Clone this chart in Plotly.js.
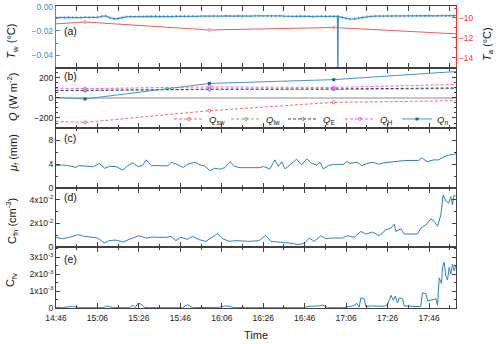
<!DOCTYPE html>
<html><head><meta charset="utf-8">
<script src="https://cdn.plot.ly/plotly-3.0.1.min.js"></script>
<style>html,body{margin:0;padding:0;background:#fff}#chart{width:500px;height:344px}</style>
</head><body><div id="chart"></div>
<script>
// ---- data (time in minutes after 14:46) ----
const twMin = [0,2,4,6,8,10,12,14,16,18,20,22,24,26,28,30,32,34,36,38,40,42,44,46,48,50,52,54,56,58,60,62,64,66,68,70,72,74,76,78,80,82,84,86,88,90,92,94,96,98,100,102,104,106,108,110,112,114,116,118,120,122,124,126,128,130,132,134,135.8,136,136.2,138,140,142,144,146,148,150,152,154,156,158,160,162,164,166,168,170,172,174,176,178,180,182,184,186,188,190,192,194];
const twVal = [-0.0090,-0.0088,-0.0091,-0.0089,-0.0090,-0.0087,-0.0090,-0.0088,-0.0089,-0.0087,-0.0088,-0.0080,-0.0076,-0.0092,-0.0100,-0.0098,-0.0090,-0.0084,-0.0083,-0.0085,-0.0082,-0.0083,-0.0081,-0.0082,-0.0080,-0.0082,-0.0081,-0.0080,-0.0082,-0.0080,-0.0081,-0.0079,-0.0080,-0.0078,-0.0080,-0.0079,-0.0081,-0.0079,-0.0078,-0.0080,-0.0078,-0.0077,-0.0079,-0.0078,-0.0076,-0.0078,-0.0077,-0.0079,-0.0077,-0.0076,-0.0078,-0.0077,-0.0079,-0.0078,-0.0077,-0.0079,-0.0081,-0.0082,-0.0080,-0.0079,-0.0081,-0.0080,-0.0082,-0.0080,-0.0079,-0.0081,-0.0080,-0.0081,-0.0080,-0.0560,-0.0082,-0.0088,-0.0098,-0.0103,-0.0101,-0.0095,-0.0088,-0.0082,-0.0080,-0.0079,-0.0078,-0.0079,-0.0077,-0.0078,-0.0076,-0.0077,-0.0078,-0.0076,-0.0077,-0.0075,-0.0076,-0.0077,-0.0075,-0.0076,-0.0075,-0.0074,-0.0076,-0.0075,-0.0074,-0.0075];

const hourMin = [-46,14,74,134,194];   // 14:00, 15:00, 16:00, 17:00, 18:00
const taVal = [-11.2,-10.4,-11.2,-10.95,-11.6];

const qSw = [-201,-244,-127,-44,-27];
const qLw = [72,73,84,84,93];
const qE  = [75,76,88,90,100];
const qH  = [115,93,110,105,135];
const qN  = [58,-10,145,183,265];

const muMin = [0,3.2,6.5,9.7,11.3,14.5,17.7,21,23.4,25.8,29,32.3,34.7,37.1,39.5,41.6,43.5,46,48.4,54,55.6,58,61.3,63.7,67,69.4,71.8,74.2,76.6,79,81.5,83.9,86.3,88.7,98.4,100,103.2,105.6,107.3,108.9,110.5,112.9,116.1,118.5,121,123.4,125.8,127.4,129,131.5,133.9,138.7,140.3,141.9,145.2,147.6,150,153.2,155.6,158,161.3,164.5,168.5,175,176.6,179,182.3,184.7,187.1,189.5,192,193.5];
const muVal = [3.7,3.85,3.7,3.45,3.75,3.7,3.55,4.1,3.3,3.63,3.57,3.0,3.75,4.2,3.57,3.75,4.7,3.75,3.7,3.7,4.3,4.0,3.45,4.0,4.3,3.85,3.7,2.9,3.3,3.15,3.4,4.4,3.6,3.4,3.4,3.6,3.2,4.7,3.6,4.4,3.2,3.85,4.8,3.85,4.85,4.1,3.85,4.3,3.2,3.75,3.95,3.95,4.4,4.1,4.3,3.75,4.1,4.3,3.95,4.2,4.3,4.4,4.6,4.6,5.05,4.4,4.7,4.7,5.2,5.5,5.6,5.8];

const cfnMin = [0,3.2,6.4,10.5,12.9,16.1,20.1,23.3,25.7,28.9,32.2,37.0,40.2,43.4,46.6,49.8,53.1,55.5,57.9,60.3,63.5,65.9,69.1,72.3,75.6,78.0,80.4,83.6,86.8,90.0,93.2,98.1,101.0,103.7,109.3,114.1,116.6,119.8,122.2,124.6,127.8,130.2,132.6,138.3,140.7,143.9,147.1,149.5,152.7,155.9,159.2,161.6,163.2,164.0,166.4,168.0,174.4,176.0,178.5,180.9,182.5,184.1,185.7,186.8,188.1,189.4,190.5,191.3,192.1,192.9];
const cfnVal = [0.0082,0.0070,0.0082,0.0104,0.0093,0.0085,0.0076,0.0034,0.0054,0.0059,0.0042,0.0076,0.0096,0.0076,0.0085,0.0082,0.0082,0.0090,0.0054,0.0082,0.0065,0.0090,0.0062,0.0048,0.0082,0.0113,0.0070,0.0048,0.0054,0.0048,0.0048,0.0054,0.0099,0.0048,0.0039,0.0031,0.0020,0.0031,0.0076,0.0048,0.0096,0.0070,0.0076,0.0076,0.0096,0.0082,0.0132,0.0110,0.0127,0.0096,0.0146,0.0161,0.0194,0.0132,0.0155,0.0110,0.0110,0.0161,0.0189,0.0239,0.0217,0.0175,0.0273,0.0442,0.0392,0.0372,0.0428,0.0358,0.0442,0.0428];

const cfvMin = [0,3.2,8.0,11.3,22.5,24.9,27.3,35.4,37.0,38.3,39.4,41.0,42.6,45.0,61.1,63.5,65.9,78.8,81.2,83.6,86.0,119.0,122.2,127.0,128.6,131.0,138.3,140.7,143.1,145.2,146.3,147.1,148.7,149.5,151.9,158.4,160.0,161.6,162.7,163.7,164.8,165.6,167.2,168.0,176.0,176.8,178.5,179.3,181.7,183.3,184.1,184.9,186.0,186.5,187.3,188.1,188.9,189.7,190.5,191.3,192.1,192.9];
const cfvVal = [0.00004,0.00002,0.0001,0.00002,0.00002,0.00012,0.00002,0.00002,0.00016,0.00002,0.00027,0.00024,0.00004,0.00002,0.00002,0.0002,0.00002,0.00004,0.00012,0.0001,0.00002,0.00002,0.0001,0.00012,0.00018,0.00002,0.00002,0.00006,0.00012,0.00027,0.00006,0.0006,0.00055,0.00008,0.00012,0.0001,0.0002,0.00075,0.00047,0.0007,0.0003,0.0006,0.00055,0.00012,0.00008,0.0009,0.00084,0.0004,0.0005,0.00055,0.00016,0.00178,0.00145,0.0024,0.0027,0.00188,0.00165,0.0024,0.002,0.0026,0.0022,0.0025];

const qNames = ['<i>Q</i><sub>sw</sub>','<i>Q</i><sub>lw</sub>','<i>Q</i><sub>E</sub>','<i>Q</i><sub>H</sub>','<i>Q</i><sub>n</sub>'];

// ---- helpers ----
const base = Date.UTC(2024,0,1,14,46);
const T = arr => arr.map(m => base + m*60000);
const xRange = [base, base + 193*60000];
const FONT = 'Liberation Sans, Arial, sans-serif';
const BLUE = '#2f7fc1', RED = '#f25a5a', AX = '#404040', TWBLUE = '#3d8fd6';
const DASH = '3px,2px';

const traces = [
  {x:T(twMin), y:twVal, xaxis:'x', yaxis:'y', mode:'lines+markers', line:{color:TWBLUE,width:1.3},
   marker:{symbol:'line-ns-open',size:2,color:TWBLUE,line:{width:0.8,color:TWBLUE}}, showlegend:false},
  {x:T(hourMin), y:taVal, xaxis:'x', yaxis:'y6', mode:'lines+markers', line:{color:RED,width:1},
   marker:{symbol:'circle-open',size:3,color:'#f5a0a0'}, showlegend:false},
  {x:T(hourMin), y:qSw, xaxis:'x2', yaxis:'y2', name:qNames[0], mode:'lines+markers',
   line:{color:'#f26b6b',width:1,dash:DASH}, marker:{symbol:'circle-open',size:3,color:'#f26b6b'}},
  {x:T(hourMin), y:qLw, xaxis:'x2', yaxis:'y2', name:qNames[1], mode:'lines+markers',
   line:{color:'#66c266',width:1,dash:DASH}, marker:{symbol:'circle-open',size:3,color:'#66c266'}},
  {x:T(hourMin), y:qE, xaxis:'x2', yaxis:'y2', name:qNames[2], mode:'lines+markers',
   line:{color:'#404040',width:1,dash:DASH}, marker:{symbol:'circle-open',size:3,color:'#909090'}},
  {x:T(hourMin), y:qH, xaxis:'x2', yaxis:'y2', name:qNames[3], mode:'lines+markers',
   line:{color:'#ff4dff',width:1,dash:DASH}, marker:{symbol:'circle-open',size:3,color:'#ff4dff'}},
  {x:T(hourMin), y:qN, xaxis:'x2', yaxis:'y2', name:qNames[4], mode:'lines+markers',
   line:{color:'#4a90d0',width:1}, marker:{symbol:'square',size:3,color:'#1f5fa0'}},
  {x:T(muMin), y:muVal, xaxis:'x3', yaxis:'y3', mode:'lines', line:{color:BLUE,width:1}, showlegend:false},
  {x:T(cfnMin), y:cfnVal, xaxis:'x4', yaxis:'y4', mode:'lines', line:{color:BLUE,width:1}, showlegend:false},
  {x:T(cfvMin), y:cfvVal, xaxis:'x5', yaxis:'y5', mode:'lines', line:{color:BLUE,width:1}, showlegend:false}
];

const tickFont = {family:FONT,size:8.5,color:'#222'};
function xAx(anchor, labels){
  return {type:'date', range:xRange, anchor:anchor, domain:[0,1], showline:true, linecolor:AX, linewidth:1,
    mirror:'allticks', ticks:'inside', ticklen:5, tickcolor:AX, tickwidth:1, tick0:base, dtick:1200000,
    tickformat:'%H:%M', showticklabels:labels, tickfont:tickFont, showgrid:false, zeroline:false,
    minor:{ticks:'inside', ticklen:3, dtick:600000, tick0:base, tickcolor:AX, showgrid:false}};
}
function yAx(domain, range, extra){
  return Object.assign({domain:domain, range:range, showline:true, linecolor:AX, linewidth:1,
    mirror:'allticks', ticks:'inside', ticklen:4, tickcolor:AX, tickfont:tickFont, showgrid:false, zeroline:false}, extra);
}
const dA=[0.795,1], dB=[0.596,0.795], dC=[0.397,0.596], dD=[0.202,0.397], dE=[0,0.202];

const layout = {
  width:500, height:344, margin:{l:56,r:44,t:6,b:36},
  paper_bgcolor:'#fff', plot_bgcolor:'#fff', font:{family:FONT,size:10,color:'#222'},
  xaxis: xAx('y',false), xaxis2: xAx('y2',false), xaxis3: xAx('y3',false), xaxis4: xAx('y4',false),
  xaxis5: Object.assign(xAx('y5',true), {ticklabelstandoff:2,
    title:{text:'Time', font:{family:FONT,size:11,color:'#222'}, standoff:9}}),
  yaxis: {domain:dA, range:[-0.0505,0.0005], anchor:'x', showline:true, linecolor:TWBLUE, linewidth:1.2,
    ticks:'inside', ticklen:4, tickcolor:TWBLUE, tickvals:[0,-0.02,-0.04], ticktext:['0.00','−0.02','−0.04'],
    tickfont:{family:FONT,size:8.5,color:TWBLUE}, showgrid:false, zeroline:false,
    minor:{ticks:'inside',ticklen:2,dtick:0.01,tickcolor:TWBLUE}},
  yaxis6: {overlaying:'y', side:'right', anchor:'x', range:[-15,-8.8], showline:true, linecolor:'#ff3030', linewidth:1.2,
    ticks:'inside', ticklen:4, tickcolor:'#ff3030', tickvals:[-10,-12,-14], ticktext:['−10','−12','−14'],
    tickfont:{family:FONT,size:8.5,color:'#ff3030'}, showgrid:false, zeroline:false,
    minor:{ticks:'inside',ticklen:2,dtick:1,tickcolor:'#ff3030'}},
  yaxis2: yAx(dB,[-300,300],{anchor:'x2', tickvals:[-200,0,200], ticktext:['−200','0','200'],
    zeroline:true, zerolinecolor:'#c4c4c4', zerolinewidth:1.5, minor:{ticks:'inside',ticklen:2,dtick:50,tickcolor:AX}}),
  yaxis3: yAx(dC,[0,10],{anchor:'x3', tickvals:[0,4,8], minor:{ticks:'inside',ticklen:2,dtick:2,tickcolor:AX}}),
  yaxis4: yAx(dD,[0,0.05],{anchor:'x4', tickvals:[0,0.02,0.04], ticktext:['0','2x10<sup>-2</sup>','4x10<sup>-2</sup>'],
    minor:{ticks:'inside',ticklen:2,dtick:0.01,tickcolor:AX}}),
  yaxis5: yAx(dE,[0,0.0036],{anchor:'x5', tickvals:[0,0.001,0.002,0.003],
    ticktext:['0','1x10<sup>-3</sup>','2x10<sup>-3</sup>','3x10<sup>-3</sup>'],
    minor:{ticks:'inside',ticklen:2,dtick:0.0005,tickcolor:AX}}),
  legend:{orientation:'h', x:0.995, xanchor:'right', y:0.626, yanchor:'middle', bgcolor:'rgba(0,0,0,0)',
    font:{family:FONT,size:9.5,color:'#222'}, itemwidth:30, entrywidth:12, entrywidthmode:'pixels', tracegroupgap:0},
  annotations:[
    {text:'<i>T</i><sub>w</sub> (°C)', x:-0.11, y:0.882},
    {text:'<i>Q</i> (W m<sup>-2</sup>)', x:-0.11, y:0.699},
    {text:'<i>μ</i><sub>f</sub> (mm)', x:-0.105, y:0.513},
    {text:'C<sub>fn</sub> (cm<sup>-3</sup>)', x:-0.11, y:0.288},
    {text:'C<sub>fv</sub>', x:-0.112, y:0.093},
    {text:'<i>T</i><sub>a</sub> (°C)', x:1.08, y:0.874}
  ].map(a=>Object.assign({xref:'paper',yref:'paper',xanchor:'center',yanchor:'middle',showarrow:false,
    textangle:-90, font:{family:FONT,size:11,color:'#111'}},a)).concat(
  [['(a)',0.917],['(b)',0.768],['(c)',0.564],['(d)',0.369],['(e)',0.161]].map(p=>({
    text:p[0], x:0.014, y:p[1], xref:'paper', yref:'paper', xanchor:'left', yanchor:'middle', showarrow:false,
    font:{family:FONT,size:10.5,color:'#111'}})))
};

Plotly.newPlot('chart', traces, layout, {staticPlot:true, displayModeBar:false});
</script>
</body></html>
